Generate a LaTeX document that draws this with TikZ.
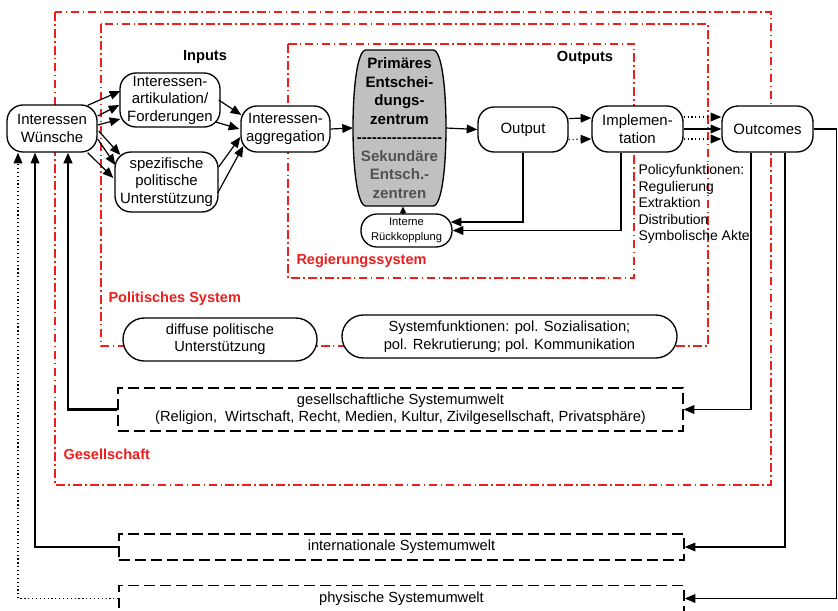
\documentclass[tikz,border=0pt]{standalone}
\usepackage{fontspec}
\setmainfont{Liberation Sans}
\usetikzlibrary{calc,arrows.meta}

\tikzset{every picture/.style={line width=0.75pt}}
\definecolor{rahmenrot}{RGB}{236,30,30}
\definecolor{kerngrau}{RGB}{192,192,192}
\definecolor{textgrau}{RGB}{82,82,82}
\newcommand{\trennstrich}{\mbox{-}\mbox{-}\mbox{-}\mbox{-}\mbox{-}\mbox{-}\mbox{-}\mbox{-}\mbox{-}\mbox{-}\mbox{-}\mbox{-}\mbox{-}\mbox{-}\mbox{-}\mbox{-}\mbox{-}}

\tikzset{
  kasten/.style={draw, fill=white, line width=1pt, rounded corners=12pt, align=center, inner sep=1pt, font=\fontsize{11.2}{13.1}\selectfont},
  oval/.style={kasten, rounded corners=16pt, font=\fontsize{11}{13}\selectfont},
  umwelt/.style={draw, fill=white, line width=1pt, dash pattern={on 8pt off 4pt}, align=center, inner sep=1pt, font=\fontsize{11}{13}\selectfont},
  rahmen/.style={draw=rahmenrot, line width=1.2pt, dash pattern={on 6.5pt off 2.5pt on 1.2pt off 2.5pt}},
  rotlabel/.style={anchor=west, inner sep=0pt, text=rahmenrot, font=\fontsize{10.9}{13}\selectfont\bfseries},
  titel/.style={inner sep=0pt, font=\fontsize{11}{13}\selectfont\bfseries},
  pfeil/.style={-{Triangle[length=8pt,width=6.5pt]}, line width=0.9pt},
  kleinpfeil/.style={-{Triangle[length=5pt,width=4.5pt]}, line width=0.9pt}
}

\begin{document}
\begin{tikzpicture}[x=0.75pt,y=0.75pt,yscale=-1,xscale=1]
		\clip (0,0) rectangle (838,610);
		
		%Rahmen
		\draw[rahmen] (55,12) rectangle (771,485);
		\draw[rahmen] (101,24) rectangle (708,346);
		\draw[rahmen] (288,44) rectangle (634,278);
		
		%Shape: Barrel
		\draw[fill=kerngrau, line width=1pt] (366,50) -- (433,50) .. controls (442,50) and (446,90) .. (446,128) .. controls (446,166) and (442,206) .. (433,206) -- (366,206) .. controls (357,206) and (353,166) .. (353,128) .. controls (353,90) and (357,50) .. (366,50) -- cycle;
		
		% Knoten
		\node[kasten, minimum width=67.5pt, minimum height=35.25pt] (wuensche) at (52,128.5) {Interessen\\Wünsche};
		\node[kasten, minimum width=75pt, minimum height=40.5pt] (art) at (170,100) {Interessen-\\artikulation/\\Forderungen};
		\node[kasten, minimum width=77.25pt, minimum height=45pt] (spez) at (166.5,182) {spezifische\\politische\\Unterstützung};
		\node[kasten, minimum width=66.75pt, minimum height=34.5pt] (agg) at (285.5,129) {Interessen-\\aggregation};
		\node[align=center, inner sep=0pt, minimum width=69pt, minimum height=117pt, font=\fontsize{11.3}{13.9}\selectfont\bfseries] (prim) at (399.5,128) {Primäres\\Entschei-\\dungs-\\zentrum\\\trennstrich\\\textcolor{textgrau}{Sekundäre}\\\textcolor{textgrau}{Entsch.-}\\\textcolor{textgrau}{zentren}};
		\node[kasten, minimum width=67.5pt, minimum height=33.75pt] (out) at (523,129.5) {Output};
		\node[kasten, minimum width=68.25pt, minimum height=34.5pt] (impl) at (637.5,129) {Implemen-\\tation};
		\node[kasten, minimum width=68.25pt, minimum height=34.5pt] (outc) at (767.5,129) {Outcomes};
		\node[kasten, minimum width=68.25pt, minimum height=24.75pt, font=\fontsize{8.4}{11.25}\selectfont] (interne) at (406.5,230.5) {Interne\\Rückkopplung};
		\node[oval, minimum width=145.5pt, minimum height=32.25pt] (diffuse) at (220,339.5) {diffuse politische\\Unterstützung};
		\node[oval, minimum width=251.25pt, minimum height=32.25pt, font=\fontsize{11}{13.5}\selectfont] (sysf) at (509.5,336.5) {Systemfunktionen: pol. Sozialisation;\\pol. Rekrutierung; pol. Kommunikation};
		\node[umwelt, minimum width=423.75pt, minimum height=32.25pt, font=\fontsize{11}{12.75}\selectfont] (gesell) at (400.5,409.5) {gesellschaftliche Systemumwelt\\(Religion,\ \ Wirtschaft, Recht, Medien, Kultur, Zivilgesellschaft, Privatsphäre)};
		\node[umwelt, minimum width=423.75pt, minimum height=19.5pt] (internat) at (401.5,547) {internationale Systemumwelt};
		\node[umwelt, minimum width=423.75pt, minimum height=19.5pt] (phys) at (401.5,598.5) {physische Systemumwelt};
		
		% Text Node
		\node[titel] (inputs) at (205,57) {Inputs};
		\node[titel] (outputs) at (585,58) {Outputs};
		\node[rotlabel] (regsys) at (296,261) {Regierungssystem};
		\node[rotlabel] (polsys) at (108,299) {Politisches System};
		\node[rotlabel] (gesellsch) at (63,454) {Gesellschaft};
		\node[anchor=north west, inner sep=0pt, align=left, font=\fontsize{10.5}{12.4}\selectfont] (policy) at (638,164) {Policyfunktionen:\\Regulierung\\Extraktion\\Distribution\\Symbolische Akte};
		
		%Inputs
		\draw[pfeil] ($(wuensche.north east)+(-10,1)$) -- ($(art.west)+(1,-9)$);
		\draw[pfeil] ($(wuensche.east)+(0,-12.5)$) -- ($(art.west)+(0,5)$);
		\draw[pfeil] ($(wuensche.east)+(0,-3.5)$) -- ($(art.west)+(1,19)$);
		\draw[pfeil] ($(wuensche.east)+(1,2.5)$) -- ($(spez.west)+(6,-27)$);
		\draw[pfeil] ($(wuensche.east)+(0,10.5)$) -- ($(spez.west)+(1,-17)$);
		\draw[pfeil] ($(wuensche.south east)+(-10,0)$) -- ($(spez.west)+(-1,-4)$);
		\draw[pfeil] ($(art.east)+(-2,0)$) -- ($(agg.west)+(1,-14)$);
		\draw[pfeil] ($(art.east)+(-5,22)$) -- ($(agg.west)+(-1,0)$);
		\draw[pfeil] ($(spez.east)+(0,-15)$) -- ($(agg.west)+(0,8)$);
		\draw[pfeil] ($(spez.east)+(-1,11)$) -- ($(agg.west)+(3,17)$);
		
		%Kette
		\draw[pfeil] (agg.east) -- (prim.west);
		\draw[pfeil] (prim.east) -- (out.west);
		\draw[pfeil] ($(out.east)+(0,-11)$) -- ($(impl.west)+(0,-11)$);
		\draw[pfeil, dotted] ($(out.east)+(0,10)$) -- ($(impl.west)+(0,10)$);
		\draw[pfeil, dotted] ($(impl.east)+(0,-12)$) -- ($(outc.west)+(0,-12)$);
		\draw[pfeil] (impl.east) -- (outc.west);
		\draw[pfeil, dotted] ($(impl.east)+(0,10)$) -- ($(outc.west)+(0,10)$);
		
		%Rueckkopplung
		\draw[pfeil] (out.south) |- ($(interne.east)+(-2,-8.5)$);
		\draw[pfeil] ($(impl.south)+(-16.5,0)$) |- (interne.east);
		\draw[kleinpfeil] ($(interne.north)+(-3.5,0)$) -- ($(prim.south)+(3.5,0)$);
		
		%Umwelten
		\draw[pfeil] ($(outc.south)+(-16.5,0)$) |- (gesell.east);
		\draw[pfeil] ($(outc.south)+(17.5,0)$) |- (internat.east);
		\draw[pfeil] (outc.east) -- ++(23,0) |- (phys.east);
		\draw[pfeil, line width=1.7pt] (gesell.west) -| ($(wuensche.south)+(16,0)$);
		\draw[pfeil] (internat.west) -| ($(wuensche.south)+(-17,0)$);
		\draw[pfeil, dotted] (phys.west) -| ($(wuensche.south)+(-34,0)$);
	\end{tikzpicture}
\end{document}
